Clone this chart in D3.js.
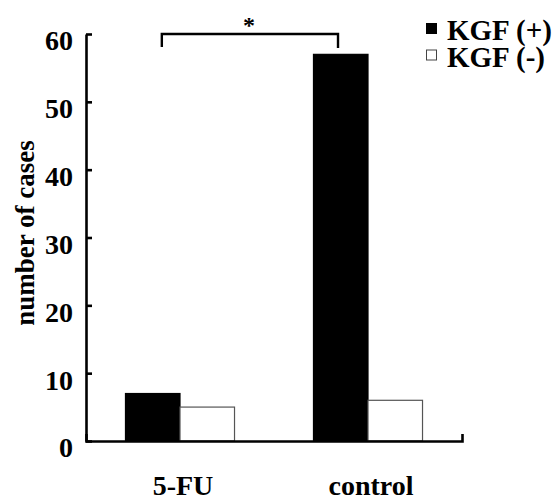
<!DOCTYPE html>
<html>
<head>
<meta charset="utf-8">
<script src="https://cdn.jsdelivr.net/npm/d3@7"></script>
<style>
  body { margin: 0; background: #fff; }
  text { font-family: "Liberation Serif", "Times New Roman", serif; font-weight: bold; }
</style>
</head>
<body>
<svg id="vis"></svg>
<script>
const categories = ['5-FU', 'control'];
const seriesNames = ['KGF (+)', 'KGF (-)'];
const kgfPos = [7, 57];
const kgfNeg = [5, 6];
const yTicks = [0, 10, 20, 30, 40, 50, 60];
const yLabel = 'number of cases';
const sigMark = '*';

const width = 557, height = 500;
const plotLeft = 86, plotRight = 462, plotTop = 34, plotBottom = 441;

var svg = d3.select('#vis').attr('width', width).attr('height', height);

var y = d3.scaleLinear().domain([0, 60]).range([plotBottom, plotTop]);
var x = d3.scaleBand().domain(categories).range([plotLeft, plotRight])
    .paddingInner(0.42).paddingOuter(0.21);
var sub = d3.scaleBand().domain(seriesNames).range([0, x.bandwidth()]);

var groups = categories.map((c, i) => ({cat: c, vals: [kgfPos[i], kgfNeg[i]]}));

// bars
svg.append('g').selectAll('g').data(groups).enter().append('g')
    .attr('transform', d => 'translate(' + x(d.cat) + ',0)')
    .selectAll('rect').data(d => d.vals.map((v, j) => ({name: seriesNames[j], v: v})))
    .enter().append('rect')
    .attr('x', d => sub(d.name))
    .attr('width', sub.bandwidth())
    .attr('y', d => y(d.v))
    .attr('height', d => y(0) - y(d.v))
    .attr('fill', d => d.name === seriesNames[0] ? '#000' : '#fff')
    .attr('stroke', d => d.name === seriesNames[0] ? '#000' : '#555')
    .attr('stroke-width', 1.2);

// y axis
var yAxis = svg.append('g').attr('transform', 'translate(' + plotLeft + ',0)')
    .call(d3.axisLeft(y).tickValues(yTicks).tickSize(-6).tickSizeOuter(0).tickPadding(13));
yAxis.select('.domain').attr('stroke', '#000').attr('stroke-width', 2.6);
yAxis.selectAll('.tick line').attr('stroke', '#000').attr('stroke-width', 2.6);
yAxis.selectAll('.tick text').attr('font-size', 28).attr('dy', '0.57em').attr('fill', '#000');

// x axis
var xAxis = svg.append('g').attr('transform', 'translate(0,' + plotBottom + ')')
    .call(d3.axisBottom(x).tickSize(0).tickSizeOuter(-7).tickPadding(34));
xAxis.select('.domain').attr('stroke', '#000').attr('stroke-width', 2.6);
xAxis.selectAll('.tick text').attr('font-size', 28).attr('dx', 3).attr('fill', '#000');

// y label
svg.append('text')
    .attr('transform', 'translate(34,233) rotate(-90)')
    .attr('text-anchor', 'middle')
    .attr('font-size', 27)
    .text(yLabel);

// significance bracket
var bx0 = x(categories[0]) + x.bandwidth() / 3;
var bx1 = x(categories[1]) + sub.bandwidth() * 0.45;
svg.append('path')
    .attr('d', 'M' + bx0 + ',' + (plotTop + 13) + 'V' + plotTop + 'H' + bx1 + 'V' + (plotTop + 14))
    .attr('fill', 'none').attr('stroke', '#000').attr('stroke-width', 2.4);
svg.append('text').attr('x', (bx0 + bx1) / 2 - 1).attr('y', 33)
    .attr('text-anchor', 'middle').attr('font-size', 24).text(sigMark);

// legend
var legend = svg.append('g').attr('transform', 'translate(426,0)');
seriesNames.forEach(function(name, i) {
    var base = 40 + i * 26.5;
    legend.append('rect')
        .attr('x', 0.5).attr('y', base - 16.5)
        .attr('width', 10).attr('height', 10)
        .attr('fill', i === 0 ? '#000' : '#fff')
        .attr('stroke', i === 0 ? '#000' : '#444').attr('stroke-width', 1);
    legend.append('text').attr('x', 21).attr('y', base)
        .attr('font-size', 29).text(name);
});
</script>
</body>
</html>
